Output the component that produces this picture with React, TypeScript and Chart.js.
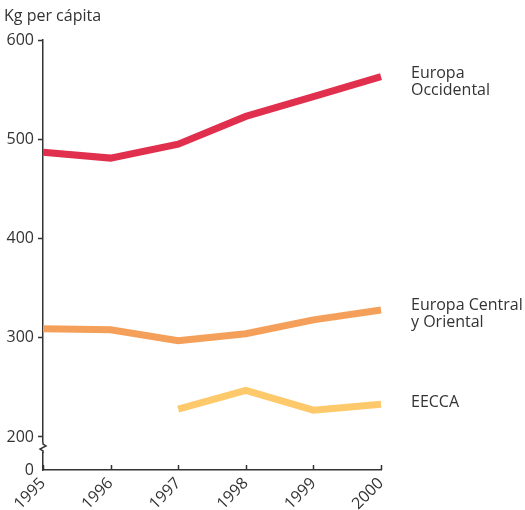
import React, { useEffect, useRef } from "react";
import { Chart, registerables } from "chart.js";

Chart.register(...registerables);

const years = ["1995", "1996", "1997", "1998", "1999", "2000"];
const occidental = [487, 481, 495, 523, 543, 563];
const centralOriental = [309, 308, 297, 304, 318, 328];
const eecca = [null, null, 228, 247, 227, 233];
const seriesLabels = [["Europa", "Occidental"], ["Europa Central", "y Oriental"], ["EECCA"]];
const yTicks = [200, 300, 400, 500, 600];
const yAxisTitle = "Kg per cápita";
const BREAK_MIN = 166.75; // shown as 0 (axis break)

const FONT = "'Open Sans', Lato, sans-serif";
const FS = 16;
const TEXT = "#333333";
const colors = ["#e0304d", "#f4a05a", "#fec96b"];

const decorPlugin = {
  id: "decor",
  afterDraw(chart: any) {
    const ctx = chart.ctx;
    const x = chart.scales.x;
    const y = chart.scales.y;
    const area = chart.chartArea;
    ctx.save();
    // title
    ctx.fillStyle = TEXT;
    ctx.font = `${FS}px ${FONT}`;
    ctx.textBaseline = "middle";
    ctx.textAlign = "left";
    ctx.fillText(yAxisTitle, 4, 16);
    // x ticks (inside)
    ctx.strokeStyle = TEXT;
    ctx.lineWidth = 1.5;
    years.forEach((_, i) => {
      const px = Math.round(x.getPixelForValue(i)) + 0.5;
      ctx.beginPath();
      ctx.moveTo(px, area.bottom);
      ctx.lineTo(px, area.bottom - 5);
      ctx.stroke();
    });
    // axis break
    const ax = area.left;
    const by = y.getPixelForValue(200) + 10;
    ctx.fillStyle = "#ffffff";
    ctx.fillRect(ax - 3, by - 5, 6, 10);
    ctx.beginPath();
    ctx.moveTo(ax, by - 5);
    ctx.lineTo(ax, by - 3);
    ctx.lineTo(ax + 3, by - 1);
    ctx.lineTo(ax - 3, by + 2);
    ctx.lineTo(ax, by + 4);
    ctx.lineTo(ax, by + 6);
    ctx.strokeStyle = TEXT;
    ctx.lineWidth = 1.5;
    ctx.stroke();
    // series labels
    ctx.fillStyle = TEXT;
    ctx.font = `${FS}px ${FONT}`;
    const lastVals = [occidental[5], centralOriental[5], eecca[5] as number];
    const offsets = [5, 4, -2];
    lastVals.forEach((v, i) => {
      const lines = seriesLabels[i];
      const cy = y.getPixelForValue(v) + offsets[i];
      const lh = 17;
      const top = cy - ((lines.length - 1) * lh) / 2;
      lines.forEach((l, j) => ctx.fillText(l, 411, top + j * lh));
    });
    ctx.restore();
  },
};

export default function App() {
  const ref = useRef<HTMLCanvasElement | null>(null);
  useEffect(() => {
    document.body.style.margin = "0";
    const c = new Chart(ref.current!, {
      type: "line",
      data: {
        labels: years,
        datasets: [occidental, centralOriental, eecca].map((d, i) => ({
          data: d as any,
          borderColor: colors[i],
          borderWidth: 7,
          pointRadius: 0,
          borderCapStyle: "butt",
          borderJoinStyle: "miter",
          tension: 0,
          spanGaps: false,
        })),
      },
      options: {
        animation: false,
        responsive: false,
        layout: { padding: { top: 40, right: 144, left: 0, bottom: 0 } },
        plugins: { legend: { display: false }, tooltip: { enabled: false } },
        scales: {
          x: {
            offset: false,
            grid: { display: false, drawTicks: false },
            border: { display: true, color: TEXT, width: 1.5 },
            ticks: {
              color: TEXT,
              font: { family: FONT, size: FS },
              minRotation: 45,
              maxRotation: 45,
              padding: 4,
            },
            afterFit(s: any) {
              s.height = 40;
            },
          },
          y: {
            min: BREAK_MIN,
            max: 600,
            afterBuildTicks(s: any) {
              s.ticks = [BREAK_MIN, ...yTicks].map((v) => ({ value: v }));
            },
            grid: {
              drawOnChartArea: false,
              drawTicks: true,
              tickLength: 5,
              tickWidth: 1.5,
              color: (c: any) => (c.tick && c.tick.value < 200 ? "rgba(0,0,0,0)" : TEXT),
            },
            border: { display: true, color: TEXT, width: 1.5 },
            ticks: {
              color: TEXT,
              font: { family: FONT, size: FS },
              padding: 4,
              callback: (v: any) => (v < 200 ? "0" : String(v)),
            },
            afterFit(s: any) {
              s.width = 43;
            },
          },
        },
      },
      plugins: [decorPlugin],
    });
    return () => c.destroy();
  }, []);
  return <canvas ref={ref} width={525} height={510} style={{ display: "block" }} />;
}
